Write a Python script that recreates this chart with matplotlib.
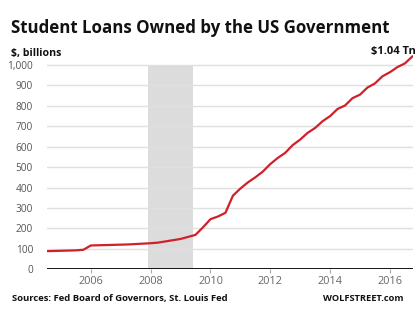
import matplotlib
matplotlib.use('Agg')
import matplotlib.pyplot as plt

# quarterly data, $ billions
years = [2004.5 + 0.25 * i for i in range(50)]
loans = [88, 89, 90, 91, 92, 95, 116, 117, 118, 119,
         120, 121, 123, 125, 127, 130, 136, 142, 148, 158,
         168, 205, 245, 258, 276, 360, 395, 425, 450, 478,
         515, 545, 570, 608, 635, 668, 692, 725, 750, 785,
         802, 838, 855, 890, 910, 945, 965, 990, 1008, 1042]
recession = [2007.9, 2009.42]
yticks = [0, 100, 200, 300, 400, 500, 600, 700, 800, 900, 1000]
ytick_labels = ['0', '100', '200', '300', '400', '500', '600', '700', '800', '900', '1,000']
xticks = [2006, 2008, 2010, 2012, 2014, 2016]

plt.rcParams['font.family'] = ['Open Sans', 'DejaVu Sans']

fig = plt.figure(figsize=(4.19, 3.09), dpi=100)
ax = fig.add_axes([0.112, 0.129, 0.8735, 0.70])

ax.fill_between(recession, 0, 1000, color='#dcdcdc', lw=0, zorder=0)
for y in yticks[1:]:
    ax.axhline(y, color='#e0e0e0', lw=1, zorder=1)
ax.axhline(0, color='black', lw=2, zorder=3)
ax.plot(years, loans, color='#d0202a', lw=1.6, zorder=4)

ax.set_xlim(2004.53, 2016.77)
ax.set_ylim(0, 1060)
ax.set_yticks(yticks)
ax.set_yticklabels(ytick_labels)
ax.set_xticks(xticks)
ax.tick_params(axis='y', length=0, pad=10, labelsize=7.3, labelcolor='#555555')
ax.tick_params(axis='x', length=3, color='#aaaaaa', pad=2, labelsize=7.8, labelcolor='#666666')
for s in ax.spines.values():
    s.set_visible(False)

fig.text(0.026, 0.893, 'Student Loans Owned by the US Government', fontsize=12.2,
         fontweight='bold', color='#111111', va='baseline')
fig.text(0.026, 0.82, '$, billions', fontsize=7.6, fontweight='bold', color='#111111',
         va='baseline')
fig.text(0.993, 0.826, '$1.04 Tn', fontsize=8, fontweight='bold', color='#111111',
         ha='right', va='baseline')
fig.text(0.029, 0.025, 'Sources: Fed Board of Governors, St. Louis Fed', fontsize=6.8,
         fontweight='bold', color='#111111')
fig.text(0.962, 0.025, 'WOLFSTREET.com', fontsize=6.7, fontweight='bold', color='#111111',
         ha='right')

fig.savefig('out.png', dpi=100)
